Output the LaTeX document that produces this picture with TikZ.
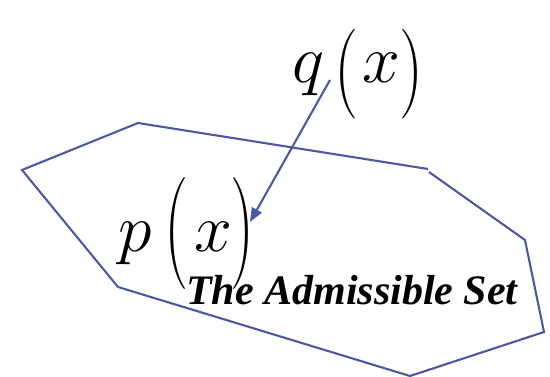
\RequirePackage{fix-cm}
\documentclass[tikz,border=0pt]{standalone}
\usepackage{fontspec}
\usepackage{graphicx}
\usetikzlibrary{arrows.meta}
\newfontfamily\tnr{Liberation Serif}
\definecolor{setblue}{RGB}{78,88,162}
\tikzset{
  boundary/.style={draw=setblue,line width=2.1pt,line join=miter},
  pointer/.style={draw=setblue,line width=2.1pt,-{Triangle[length=14pt,width=11pt]}},
  mathlbl/.style={inner sep=0pt,anchor=base west,font=\fontsize{68}{80}\selectfont},
  setlbl/.style={inner sep=0pt,anchor=base west,font=\fontsize{42}{48}\selectfont\tnr\bfseries\itshape}
}
\begin{document}
\begin{tikzpicture}[x=1pt,y=-1pt]
\useasboundingbox (0,0) rectangle (550,377);
% admissible set boundary
\coordinate (v1) at (429,172);
\coordinate (v2) at (525,240);
\coordinate (v3) at (544,332);
\coordinate (v4) at (410,376);
\coordinate (v5) at (118,287);
\coordinate (v6) at (22,170);
\coordinate (v7) at (138,123);
\coordinate (v8) at (428,169);
\draw[boundary] (v1) -- (v2) -- (v3) -- (v4) -- (v5) -- (v6) -- (v7) -- (v8);
% labels
\node[mathlbl] (q) at (292,83) {$q$\hspace{10pt}\raisebox{-14pt}{\scalebox{1}[1.32]{(}}\hspace{4.6pt}$x$\hspace{-1.4pt}\raisebox{-14pt}{\scalebox{1}[1.32]{)}}};
\node[mathlbl] (p) at (118,252) {$p$\hspace{13pt}\raisebox{-10pt}{\scalebox{1}[1.65]{(}}\hspace{5.6pt}$x$\hspace{-1.3pt}\raisebox{-10pt}{\scalebox{1}[1.65]{)}}};
\node[setlbl] (set) at (186,305) {The Admissible Set};
% arrow
\coordinate (qa) at (330,80);
\coordinate (pa) at (250,222);
\draw[pointer] (qa) -- (pa);
\end{tikzpicture}
\end{document}
